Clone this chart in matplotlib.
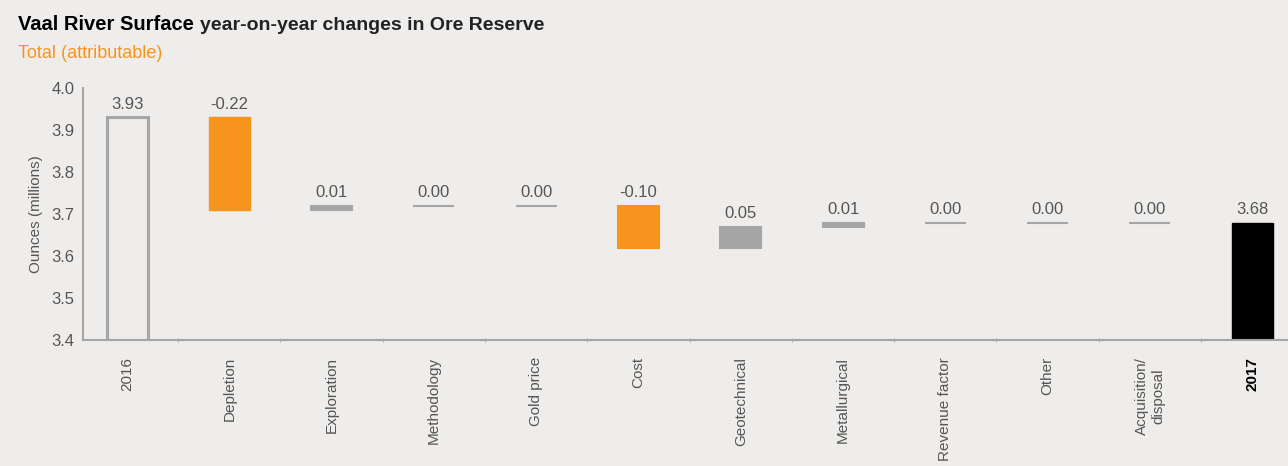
import matplotlib.pyplot as plt
import numpy as np

categories = ["2016", "Depletion", "Exploration", "Methodology", "Gold price", "Cost",
              "Geotechnical", "Metallurgical", "Revenue factor", "Other",
              "Acquisition/\ndisposal", "2017"]
changes = [0.01, 0.00, 0.00, -0.10, 0.05, 0.01, 0.00, 0.00, 0.00]
start_total = 3.93
depletion = -0.22
end_total = 3.68

BG = "#efedeb"
ORANGE = "#f7941d"
GREY = "#a6a6a6"
TEXT = "#555555"

plt.rcParams['font.family'] = ['Liberation Sans Narrow', 'Liberation Sans', 'DejaVu Sans']

fig = plt.figure(figsize=(12.88, 4.66), dpi=100, facecolor=BG)
ax = fig.add_axes([0.0645, 0.27, 0.9355, 0.541])
ax.set_facecolor(BG)

base = 3.4
x = np.arange(len(categories))
w = 0.4

# opening total: hollow box
ax.bar(x[0], start_total - base, bottom=base, width=w, facecolor=BG,
       edgecolor=GREY, linewidth=2.2)
labels = [(x[0], start_total, f"{start_total:.2f}")]

# depletion
level = start_total
ax.bar(x[1], depletion, bottom=level, width=w, color=ORANGE, edgecolor=ORANGE, linewidth=1)
labels.append((x[1], level, f"{depletion:.2f}"))
level += depletion

for i, v in enumerate(changes):
    xi = x[2 + i]
    col = ORANGE if v < 0 else GREY
    ax.bar(xi, v, bottom=level, width=w, color=col, edgecolor=col, linewidth=1.5)
    labels.append((xi, max(level, level + v), f"{v:.2f}"))
    level += v

ax.bar(x[-1], end_total - base, bottom=base, width=w, color="black", edgecolor="black")
labels.append((x[-1], end_total, f"{end_total:.2f}"))

for xi, top, txt in labels:
    ax.text(xi, top + 0.014, txt, ha="center", va="bottom", fontsize=12, color=TEXT)

ax.set_xlim(-0.43, 11.35)
ax.set_ylim(3.4, 4.0)
ax.set_yticks(np.arange(3.4, 4.01, 0.1))
ax.set_yticklabels([f"{t:.1f}" for t in np.arange(3.4, 4.01, 0.1)], fontsize=12, color=TEXT)
ax.tick_params(axis="y", length=0, pad=6)

ax.set_xticks(x)
ax.set_xticklabels(categories, rotation=90, fontsize=11, color=TEXT, va="top", ha="center")
ax.get_xticklabels()[-1].set_fontweight("bold")
ax.get_xticklabels()[-1].set_color("black")
ax.tick_params(axis="x", length=0, pad=12)
ax.set_xticks(x[:-1] + 0.5, minor=True)
ax.tick_params(axis="x", which="minor", length=3, color=GREY, direction="inout")

for s in ["top", "right"]:
    ax.spines[s].set_visible(False)
for s in ["left", "bottom"]:
    ax.spines[s].set_color(GREY)
    ax.spines[s].set_linewidth(1.5)

ax.set_ylabel("Ounces (millions)", fontsize=11, color=TEXT, labelpad=6)

fig.text(0.014, 0.935, "Vaal River Surface", fontsize=14.5, fontweight="bold", color="black")
fig.text(0.155, 0.935, "year-on-year changes in Ore Reserve", fontsize=14,
         fontweight="bold", color="#222222")
fig.text(0.014, 0.875, "Total (attributable)", fontsize=13, color=ORANGE)

fig.savefig("out.png", dpi=100, facecolor=BG)
